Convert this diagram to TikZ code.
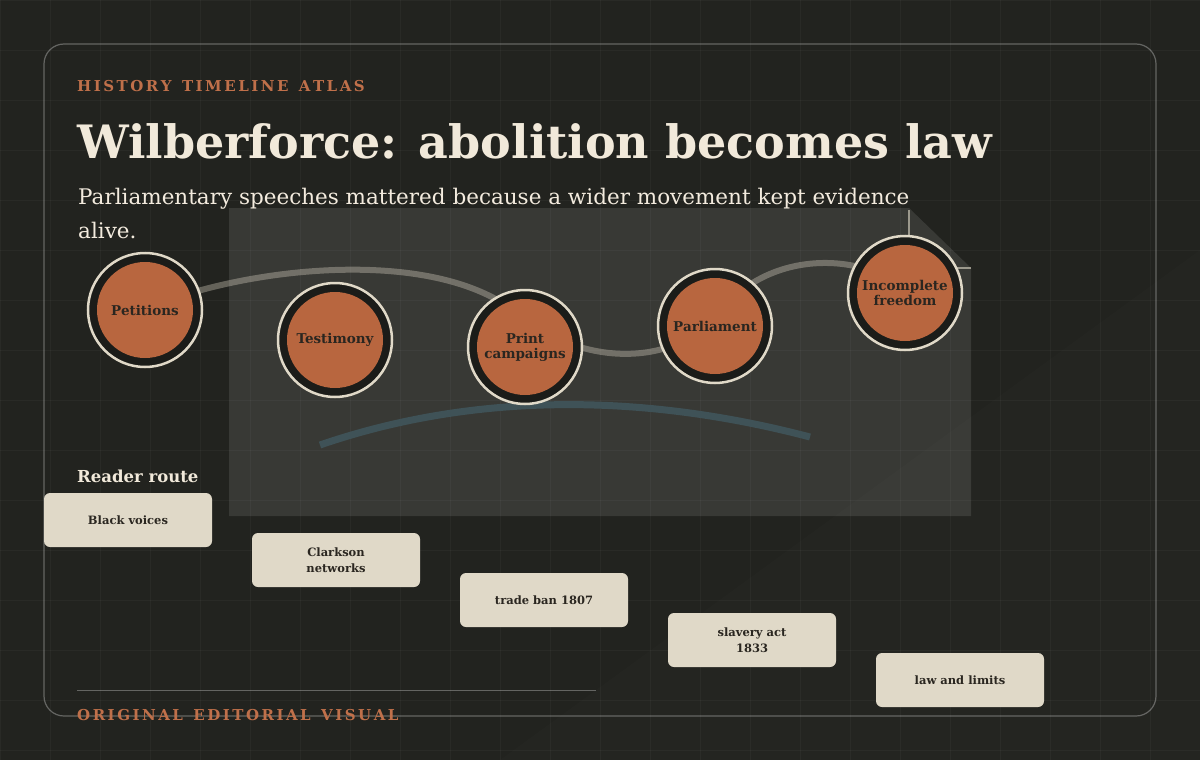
\documentclass[tikz,border=0pt]{standalone}
\usepackage{fontspec}
\setmainfont{DejaVu Serif}
\usetikzlibrary{positioning}
\definecolor{bg}{HTML}{22231F}
\definecolor{cream}{HTML}{F1E9DA}
\definecolor{rust}{HTML}{B8663F}
\definecolor{accent}{HTML}{C0704A}
\definecolor{card}{HTML}{E0D9C8}
\definecolor{ink}{HTML}{2A2620}
\definecolor{slate}{HTML}{3F5257}
\begin{document}
\begin{tikzpicture}[
        x=1pt, y=-1pt,
        ring/.style={circle, draw=card, line width=2.5pt, fill=bg!80!black, minimum size=114pt, inner sep=0pt},
        stop/.style={circle, fill=rust, minimum size=96pt, inner sep=0pt, align=center, font=\fontsize{13.5}{15}\selectfont\bfseries, text=ink},
        cardbox/.style={rounded corners=6pt, fill=card, minimum width=168pt, minimum height=54pt, align=center, font=\fontsize{11.5}{16}\selectfont\bfseries, text=ink},
        kick/.style={anchor=base west, text=accent, font=\fontsize{15}{18}\selectfont\bfseries, inner sep=0}
    ]
        \useasboundingbox (0,0) rectangle (1200,760);
        \fill[bg] (0,0) rectangle (1200,760);
        \fill[white, opacity=0.012] (500,760) -- (1200,250) -- (1200,760) -- cycle;
        \foreach \x in {0,50,...,1200} \draw[white, opacity=0.035] (\x,0) -- (\x,760);
        \foreach \y in {0,50,...,750} \draw[white, opacity=0.035] (0,\y) -- (1200,\y);
        \draw[white, opacity=0.3, line width=1.2pt, rounded corners=20pt] (44,44) rectangle (1156,716);

        % headings
        \node[kick] (kicker) at (77,92) {H\,I\,S\,T\,O\,R\,Y\ \ T\,I\,M\,E\,L\,I\,N\,E\ \ A\,T\,L\,A\,S};
        \node[anchor=base west, text=cream, font=\fontsize{46}{54}\selectfont\bfseries, inner sep=0] (title) at (77,158) {Wilberforce: abolition becomes law};
        \node[anchor=base west, text=cream!90, font=\fontsize{21.5}{30}\selectfont, inner sep=0] (sub) at (78,204) {Parliamentary speeches mattered because a wider movement kept evidence};
        \node[anchor=base west, text=cream!90, font=\fontsize{21.5}{30}\selectfont, inner sep=0] (sub2) at (78,238) {alive.};

        % panel
        \fill[white, opacity=0.1] (229,208) -- (909,208) -- (971,268) -- (971,516) -- (229,516) -- cycle;
        \draw[card, opacity=0.6, line width=2pt] (909,210) -- (909,268) -- (971,268);

        % route lines
        \draw[card, opacity=0.35, line width=6pt] (145,310) .. controls (230,270) and (440,240) .. (525,320)
            .. controls (580,360) and (660,370) .. (715,320) .. controls (760,250) and (860,250) .. (905,290);
        \draw[slate, line width=7pt] (320,445) .. controls (480,390) and (650,395) .. (810,437);

        % stops
        \foreach \n/\xx/\yy/\t in {pet/145/310/Petitions, tes/335/340/Testimony, pri/525/347/{Print\\campaigns}, par/715/326/Parliament, inc/905/293/{Incomplete\\freedom}} {
            \node[ring] (\n r) at (\xx,\yy) {};
            \node[stop] (\n) at (\xx,\yy) {\t};
        }

        \node[anchor=base west, text=cream, font=\fontsize{16.5}{20}\selectfont\bfseries, inner sep=0] (route) at (77,482) {Reader route};
        \node[cardbox] (b1) at (128,520) {Black voices};
        \node[cardbox] (b2) at (336,560) {Clarkson\\networks};
        \node[cardbox] (b3) at (544,600) {trade ban 1807};
        \node[cardbox] (b4) at (752,640) {slavery act\\1833};
        \node[cardbox] (b5) at (960,680) {law and limits};

        \draw[white, opacity=0.3] (77,690) -- (596,690);
        \node[kick] (foot) at (77,720) {O\,R\,I\,G\,I\,N\,A\,L\ \ E\,D\,I\,T\,O\,R\,I\,A\,L\ \ V\,I\,S\,U\,A\,L};
    \end{tikzpicture}
\end{document}
